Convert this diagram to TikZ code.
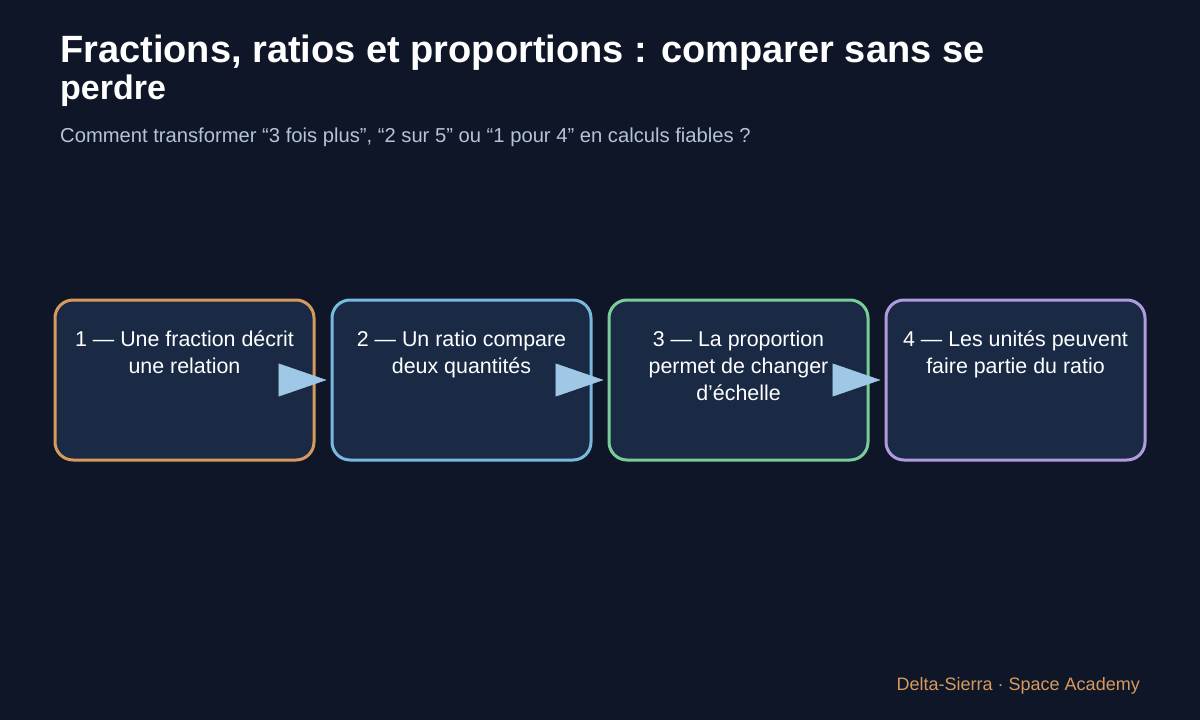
\documentclass[tikz,border=0pt]{standalone}
\usepackage{fontspec}
\setmainfont{Liberation Sans}
\usetikzlibrary{positioning,arrows.meta}
\definecolor{bgdark}{HTML}{0E1628}
\definecolor{boxfill}{HTML}{1A2A45}
\definecolor{subgrey}{HTML}{B4C3D6}
\definecolor{ochre}{HTML}{D69A5C}
\definecolor{skyblue}{HTML}{7AB8E0}
\definecolor{mint}{HTML}{7ACC9A}
\definecolor{lilac}{HTML}{B09AE0}
\definecolor{arrowblue}{HTML}{9EC8E6}
\tikzset{
  stepbox/.style={draw=#1, line width=3pt, fill=boxfill, rounded corners=18pt,
    minimum width=259pt, minimum height=160pt, inner sep=0pt},
  steptext/.style={text=white, align=center, inner sep=0pt,
    font=\fontsize{21.4pt}{27.3pt}\selectfont},
  flowarrow/.style={draw=arrowblue, line width=0.5pt, shorten >=4pt,
    -{Triangle[length=48pt,width=33pt]}, arrowblue},
}
\begin{document}
\begin{tikzpicture}[x=1pt,y=-1pt]
  \useasboundingbox[fill=bgdark] (0,0) rectangle (1200,720);
  % title and subtitle
  \node[anchor=base west, inner sep=0pt, text=white,
    font=\fontsize{38pt}{40pt}\selectfont\bfseries] (title) at (60,62)
    {Fractions, ratios et proportions : comparer sans se};
  \node[anchor=base west, inner sep=0pt, text=white,
    font=\fontsize{34pt}{36pt}\selectfont\bfseries] (titletwo) at (60,99)
    {perdre};
  \node[anchor=base west, inner sep=0pt, text=subgrey,
    font=\fontsize{20.2pt}{24pt}\selectfont] (subtitle) at (60,142)
    {Comment transformer “3 fois plus”, “2 sur 5” ou “1 pour 4” en calculs fiables ?};
  % the four steps
  \node[stepbox=ochre] (b1) at (184.5,380) {};
  \node[stepbox=skyblue] (b2) at (461.5,380) {};
  \node[stepbox=mint] (b3) at (738.5,380) {};
  \node[stepbox=lilac] (b4) at (1015.5,380) {};
  \node[steptext, below=32pt of b1.north] (t1) {1 — Une fraction décrit\\une relation};
  \node[steptext, below=32pt of b2.north] (t2) {2 — Un ratio compare\\deux quantités};
  \node[steptext, below=32pt of b3.north] (t3) {3 — La proportion\\permet de changer\\d’échelle};
  \node[steptext, below=32pt of b4.north] (t4) {4 — Les unités peuvent\\faire partie du ratio};
  % arrows between steps
  \draw[flowarrow] (b1.east) -- (b2.west);
  \draw[flowarrow] (b2.east) -- (b3.west);
  \draw[flowarrow] (b3.east) -- (b4.west);
  % footer
  \node[anchor=base east, inner sep=0pt, text=ochre,
    font=\fontsize{18pt}{22pt}\selectfont] (footer) at (1140,690)
    {Delta-Sierra · Space Academy};
\end{tikzpicture}
\end{document}
